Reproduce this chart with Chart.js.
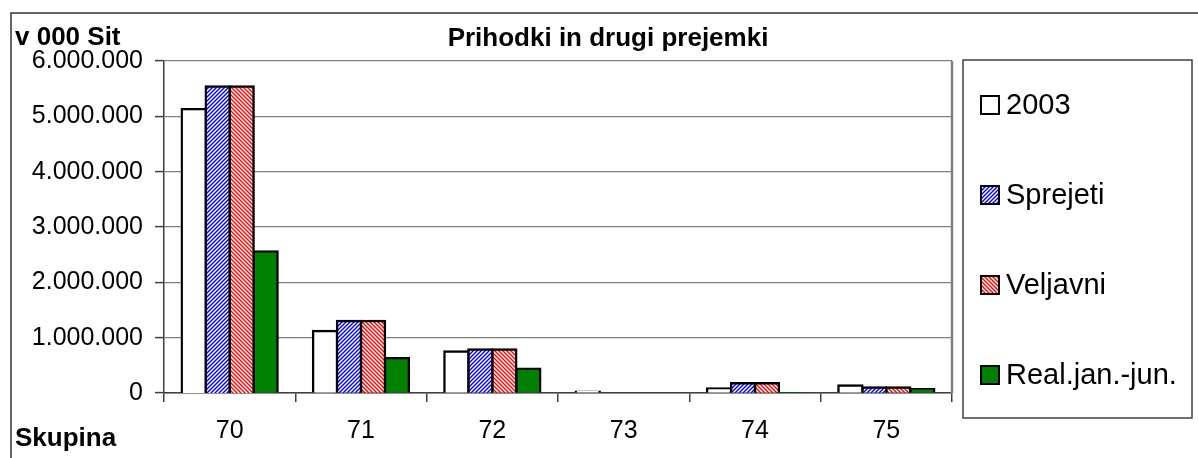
<!DOCTYPE html>
<html>
<head>
<meta charset="utf-8">
<script src="https://cdn.jsdelivr.net/npm/chart.js@4/dist/chart.umd.min.js"></script>
<style>
    html, body { margin: 0; padding: 0; background: #fff; }
    canvas { display: block; }
</style>
</head>
<body>
<canvas id="prihodkiChart" width="1198" height="458"></canvas>
<script>
// podatki (v 000 Sit)
const categories = ['70', '71', '72', '73', '74', '75'];
const seriesNames = ['2003', 'Sprejeti', 'Veljavni', 'Real.jan.-jun.'];
const values2003 = [5130000, 1120000, 750000, 25000, 80000, 135000];
const valuesSprejeti = [5540000, 1300000, 785000, 0, 177000, 100000];
const valuesVeljavni = [5540000, 1300000, 785000, 0, 177000, 100000];
const valuesReal = [2560000, 630000, 440000, 0, 10000, 70000];
const yTicks = [0, 1000000, 2000000, 3000000, 4000000, 5000000, 6000000];

const FONT = '"Liberation Sans", Arial, sans-serif';
const canvas = document.getElementById('prihodkiChart');
const ctx = canvas.getContext('2d');

/**
 * šrafura (diagonalne črte na belem)
 */
function makeHatch(color, slash) {
    const c = document.createElement('canvas');
    c.width = 4;
    c.height = 4;
    const g = c.getContext('2d');
    g.fillStyle = '#ffffff';
    g.fillRect(0, 0, 4, 4);
    g.strokeStyle = color;
    g.lineWidth = 1.4;
    g.beginPath();
    if (slash) {
        g.moveTo(-1, 5); g.lineTo(5, -1);
        g.moveTo(-1, 1); g.lineTo(1, -1);
        g.moveTo(3, 5); g.lineTo(5, 3);
    } else {
        g.moveTo(-1, -1); g.lineTo(5, 5);
        g.moveTo(3, -1); g.lineTo(5, 1);
        g.moveTo(-1, 3); g.lineTo(1, 5);
    }
    g.stroke();
    return ctx.createPattern(c, 'repeat');
}

const fills = ['#ffffff', makeHatch('#0000ff', true), makeHatch('#ff0000', false), '#008000'];
const seriesValues = [values2003, valuesSprejeti, valuesVeljavni, valuesReal];

function formatSit(v) {
    return String(v).replace(/\B(?=(\d{3})+(?!\d))/g, '.');
}

// okvir, naslovi in legenda
const decorPlugin = {
    id: 'decor',
    afterDraw(chart) {
        const c = chart.ctx;
        const area = chart.chartArea;
        c.save();

        // desni rob risalne površine
        c.strokeStyle = '#808080';
        c.lineWidth = 2.5;
        c.beginPath();
        c.moveTo(area.right, area.top);
        c.lineTo(area.right, area.bottom);
        c.stroke();

        // zunanji okvir
        c.strokeStyle = '#333333';
        c.lineWidth = 1.5;
        c.strokeRect(11, 13, 1400, 600);

        // naslovi
        c.fillStyle = '#000';
        c.textBaseline = 'alphabetic';
        c.font = 'bold 26px ' + FONT;
        c.textAlign = 'center';
        c.fillText('Prihodki in drugi prejemki', 608, 46);
        c.textAlign = 'left';
        c.fillText('v 000 Sit', 15, 45);
        c.fillText('Skupina', 15, 446);

        // legenda
        c.strokeStyle = '#404040';
        c.lineWidth = 1.5;
        c.strokeRect(963, 60, 229, 358);
        c.font = '29px ' + FONT;
        c.textBaseline = 'middle';
        chart.data.datasets.forEach((ds, i) => {
            const cy = 105 + i * 90;
            c.fillStyle = ds.backgroundColor;
            c.fillRect(981, cy - 9, 18, 18);
            c.strokeStyle = '#000';
            c.lineWidth = 2;
            c.strokeRect(981, cy - 9, 18, 18);
            c.fillStyle = '#000';
            c.fillText(ds.label, 1006, cy + 1);
        });
        c.restore();
    }
};

new Chart(canvas, {
    type: 'bar',
    data: {
        labels: categories,
        datasets: seriesNames.map((name, i) => ({
            label: name,
            data: seriesValues[i],
            backgroundColor: fills[i],
            borderColor: '#000000',
            borderWidth: 2.4,
            inflateAmount: 1.2,
            categoryPercentage: 0.73,
            barPercentage: 1.0
        }))
    },
    options: {
        responsive: false,
        animation: false,
        layout: {
            padding: { left: 0, top: 61, right: 246, bottom: 0 }
        },
        plugins: {
            legend: { display: false },
            title: { display: false },
            tooltip: { enabled: false }
        },
        scales: {
            x: {
                afterFit(scale) { scale.height = 65; },
                grid: {
                    display: true,
                    drawOnChartArea: false,
                    offset: true,
                    tickLength: 9,
                    color: '#404040',
                    lineWidth: 1.5
                },
                border: { display: true, color: '#404040', width: 1.5 },
                ticks: {
                    color: '#000',
                    padding: 14,
                    font: { family: FONT, size: 25 }
                }
            },
            y: {
                min: 0,
                max: 6000000,
                afterFit(scale) { scale.width = 164; },
                afterBuildTicks(scale) {
                    scale.ticks = yTicks.map(v => ({ value: v }));
                },
                grid: {
                    color: '#808080',
                    lineWidth: 1.2,
                    tickLength: 9,
                    tickColor: '#404040',
                    tickWidth: 1.5
                },
                border: { display: true, color: '#404040', width: 1.5 },
                ticks: {
                    color: '#000',
                    padding: 12,
                    font: { family: FONT, size: 25 },
                    callback: value => formatSit(value)
                }
            }
        }
    },
    plugins: [decorPlugin]
});
</script>
</body>
</html>
